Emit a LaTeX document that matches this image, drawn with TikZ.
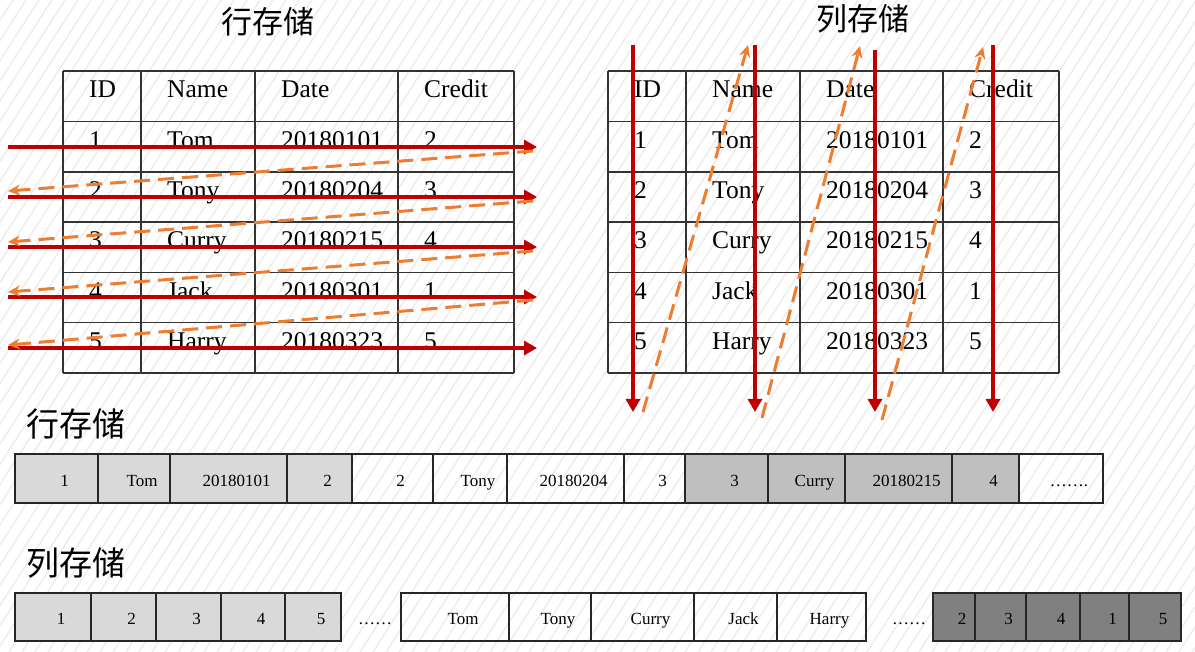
\documentclass[tikz,border=0pt]{standalone}
\usepackage{fontspec}
\setmainfont{Liberation Serif}
\newfontfamily\cjk{Noto Sans CJK SC}
\usetikzlibrary{arrows.meta}
\definecolor{redarr}{HTML}{C00000}
\definecolor{orgarr}{HTML}{ED7D31}
\definecolor{lgray}{HTML}{D9D9D9}
\definecolor{mgray}{HTML}{BFBFBF}
\definecolor{dgray}{HTML}{808080}
\definecolor{hatchc}{HTML}{EAEAEA}
\begin{document}
\begin{tikzpicture}[x=1pt,y=-1pt,
  tabtext/.style={anchor=base west,inner sep=0pt,font=\fontsize{25.5}{28}\selectfont},
  striptext/.style={anchor=base,inner sep=0pt,font=\fontsize{17}{19}\selectfont},
  titletext/.style={font=\cjk\fontsize{31}{34}\selectfont,inner sep=0pt},
  bigtitle/.style={font=\cjk\fontsize{33}{36}\selectfont,inner sep=0pt},
  redarrow/.style={draw=redarr,line width=4pt,-{Triangle[length=13pt,width=14pt]}},
  orgarrow/.style={draw=orgarr,line width=3pt,dash pattern=on 16pt off 8pt,-{Stealth[length=12pt,width=11pt,inset=4pt]}},
  tabline/.style={draw=black!80,line width=1.3pt},
  cellbox/.style={draw=black!85,line width=1.4pt}
]
\useasboundingbox (0,0) rectangle (1195,652);
\fill[white] (0,0) rectangle (1195,652);
\begin{scope}
\clip (0,0) rectangle (1195,652);
\foreach \i in {-420,-407,...,1200} \draw[hatchc,line width=1.2pt] (\i,652) -- (\i+420,0);
\end{scope}

% titles
\node[titletext] (t1) at (268,22) {行存储};
\node[titletext] (t2) at (863,19) {列存储};
\node[bigtitle] (t3) at (76,424) {行存储};
\node[bigtitle] (t4) at (76,563) {列存储};

% tables
\foreach \off/\tn in {0/L,545/R}{
  \foreach \yy in {71,121.5,172,222,272.5,322.5,373}
    \draw[tabline] (63+\off,\yy) -- (514+\off,\yy);
  \foreach \xx in {63,141,255,398,514}
    \draw[tabline] (\xx+\off,71) -- (\xx+\off,373);
  \foreach \a/\b/\c/\d [count=\k] in {ID/Name/Date/Credit,1/Tom/20180101/2,2/Tony/20180204/3,3/Curry/20180215/4,4/Jack/20180301/1,5/Harry/20180323/5}{
    \pgfmathsetmacro{\by}{71+50.33*(\k-1)+27}
    \node[tabtext] (\tn-\k-1) at (89+\off,\by) {\a};
    \node[tabtext] (\tn-\k-2) at (167+\off,\by) {\b};
    \node[tabtext] (\tn-\k-3) at (281+\off,\by) {\c};
    \node[tabtext] (\tn-\k-4) at (424+\off,\by) {\d};
  }
}

% row storage strip
\foreach \xa/\xb/\fc/\txt [count=\k] in {15/98/lgray/1,98/170/lgray/Tom,170/287/lgray/20180101,287/352/lgray/2,352/433/none/2,433/507/none/Tony,507/624/none/20180204,624/685/none/3,685/768/mgray/3,768/845/mgray/Curry,845/952/mgray/20180215,952/1019/mgray/4,1019/1103/none/…….}{
  \path[cellbox,fill=\fc] (\xa,454) rectangle (\xb,503);
  \node[striptext] (rs-\k) at ({(\xa+\xb)/2+8},486) {\txt};
}

% column storage strip
\foreach \xa/\xb/\fc/\txt [count=\k] in {15/91/lgray/1,91/156/lgray/2,156/221/lgray/3,221/285/lgray/4,285/341/lgray/5,401/509/none/Tom,509/591/none/Tony,591/694/none/Curry,694/777/none/Jack,777/866/none/Harry,933/975/dgray/2,975/1026/dgray/3,1026/1080/dgray/4,1080/1129/dgray/1,1129/1181/dgray/5}{
  \path[cellbox,fill=\fc] (\xa,593) rectangle (\xb,641);
  \node[striptext] (cs-\k) at ({(\xa+\xb)/2+8},624) {\txt};
}
\node[striptext] (cdots1) at (375,624) {……};
\node[striptext] (cdots2) at (909,624) {……};

% row-store arrows
\foreach \y [count=\k] in {147,197,247,297,348}{
  \coordinate (lra\k) at (8,\y);
  \coordinate (lrb\k) at (537,\y);
  \draw[redarrow] (lra\k) -- (lrb\k);
}
\foreach \ya/\yb [count=\k] in {151/191,201/242,251/292,300/345}{
  \coordinate (loa\k) at (533,\ya);
  \coordinate (lob\k) at (8,\yb);
  \draw[orgarrow] (loa\k) -- (lob\k);
}

% column-store arrows
\foreach \x/\ya [count=\k] in {633/45,755/45,875/50,993/45}{
  \coordinate (rra\k) at (\x,\ya);
  \coordinate (rrb\k) at (\x,412);
  \draw[redarrow] (rra\k) -- (rrb\k);
}
\foreach \xa/\ya/\xb/\yb [count=\k] in {643/412/748/45,762/418/860/46,882/420/983/47}{
  \coordinate (roa\k) at (\xa,\ya);
  \coordinate (rob\k) at (\xb,\yb);
  \draw[orgarrow] (roa\k) -- (rob\k);
}
\end{tikzpicture}
\end{document}
